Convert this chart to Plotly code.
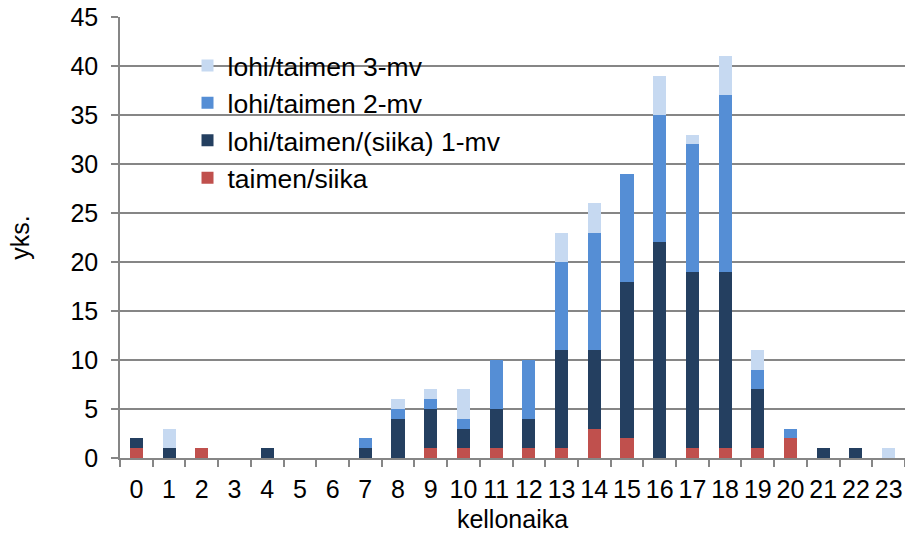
import plotly.graph_objects as go

hours = [str(h) for h in range(24)]
taimen_siika = [1, 0, 1, 0, 0, 0, 0, 0, 0, 1, 1, 1, 1, 1, 3, 2, 0, 1, 1, 1, 2, 0, 0, 0]
mv1 = [1, 1, 0, 0, 1, 0, 0, 1, 4, 4, 2, 4, 3, 10, 8, 16, 22, 18, 18, 6, 0, 1, 1, 0]
mv2 = [0, 0, 0, 0, 0, 0, 0, 1, 1, 1, 1, 5, 6, 9, 12, 11, 13, 13, 18, 2, 1, 0, 0, 0]
mv3 = [0, 2, 0, 0, 0, 0, 0, 0, 1, 1, 3, 0, 0, 3, 3, 0, 4, 1, 4, 2, 0, 0, 0, 1]

series = [
    ("taimen/siika", taimen_siika, "#C0504D", 4),
    ("lohi/taimen/(siika) 1-mv", mv1, "#243F60", 3),
    ("lohi/taimen 2-mv", mv2, "#558ED5", 2),
    ("lohi/taimen 3-mv", mv3, "#C6D9F1", 1),
]

fig = go.Figure()
for name, vals, col, rank in series:
    fig.add_trace(go.Bar(x=hours, y=vals, name=name, marker_color=col,
                         marker_line_width=0, legendgroup=name, legendrank=rank))

fam = "Liberation Sans, Arial, sans-serif"
tickfont = dict(family=fam, size=25, color="#000000")
titlefont = dict(family=fam, size=25, color="#000000")
legfont = dict(family=fam, size=26.5, color="#000000")
fig.update_layout(
    barmode="stack",
    bargap=0.6,
    width=905, height=541,
    margin=dict(l=120, r=0, t=17, b=83),
    paper_bgcolor="white", plot_bgcolor="white",
    font=tickfont,
    showlegend=True,
    legend=dict(x=0.086, y=0.944, xanchor="left", yanchor="top",
                traceorder="grouped", tracegroupgap=0,
                font=legfont, bgcolor="rgba(0,0,0,0)", itemwidth=30),
    xaxis=dict(type="category", tickson="boundaries", ticks="outside", ticklen=7,
               tickcolor="#868686", tickwidth=1.5, showline=True, linecolor="#868686",
               linewidth=1.5, showgrid=False, tickangle=0, tickfont=tickfont,
               title=dict(text="kellonaika", standoff=9, font=titlefont),
               ticklabelstandoff=8),
    yaxis=dict(range=[0, 45], dtick=5, ticks="outside", ticklen=7, tickcolor="#868686",
               tickwidth=1.5, showline=True, linecolor="#868686", linewidth=1.5,
               showgrid=True, gridcolor="#868686", gridwidth=1.5, zeroline=False,
               tickfont=tickfont,
               title=dict(text="yks.", standoff=34, font=titlefont), ticklabelstandoff=8),
)
fig.write_html("out.html")
